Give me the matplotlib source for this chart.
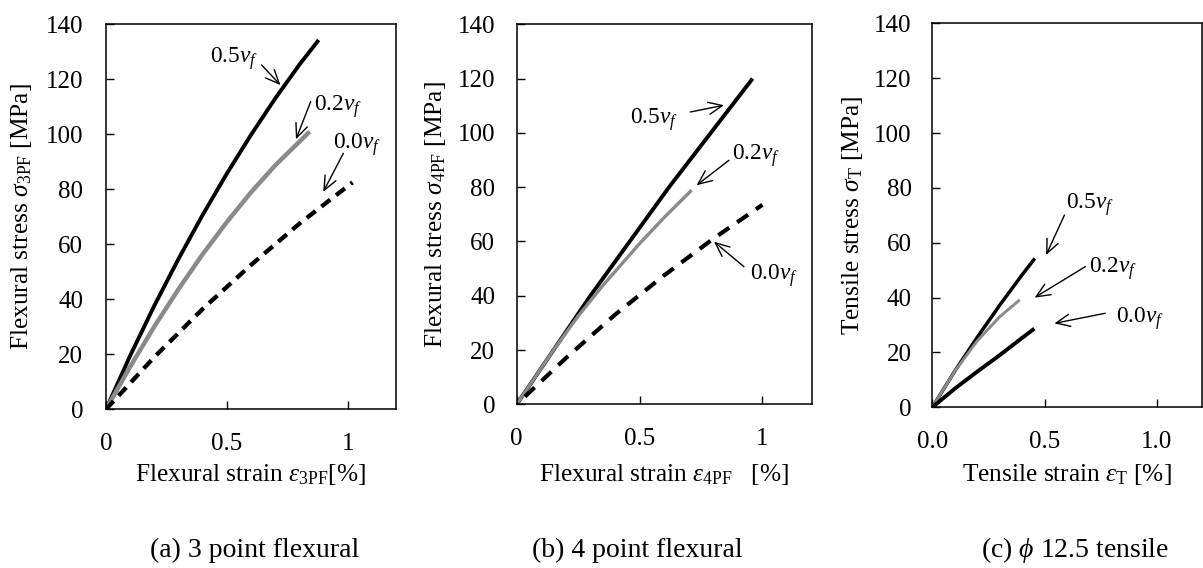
import matplotlib
matplotlib.use("Agg")
import matplotlib.pyplot as plt

plt.rcParams["font.family"] = ["Liberation Serif", "DejaVu Serif"]
plt.rcParams["mathtext.fontset"] = "custom"
plt.rcParams["mathtext.rm"] = "Liberation Serif"
plt.rcParams["mathtext.it"] = "Liberation Serif:italic"
plt.rcParams["mathtext.bf"] = "Liberation Serif:bold"

# ---- (a) 3 point flexural test -------------------------------------------
strain_3pf_05 = [0, 0.1, 0.2, 0.3, 0.4, 0.5, 0.6, 0.7, 0.8, 0.88]
stress_3pf_05 = [0, 19.5, 37.7, 54.7, 70.7, 85.7, 99.8, 113, 125.3, 134.3]
strain_3pf_02 = [0, 0.1, 0.2, 0.3, 0.4, 0.5, 0.6, 0.7, 0.843]
stress_3pf_02 = [0, 15.5, 30.1, 43.7, 56.4, 68.1, 78.9, 88.7, 101]
strain_3pf_00 = [0, 0.2, 0.4, 0.6, 0.8, 1.02]
stress_3pf_00 = [0, 19, 36.5, 52.5, 67.5, 82.5]

# ---- (b) 4 point flexural test -------------------------------------------
strain_4pf_05 = [0, 0.15, 0.3, 0.46, 0.62, 0.79, 0.96]
stress_4pf_05 = [0, 20, 40, 60, 80, 100, 120]
strain_4pf_02 = [0, 0.15, 0.25, 0.35, 0.5, 0.6, 0.712]
stress_4pf_02 = [0, 20, 32.5, 43.7, 59.2, 68.8, 78.9]
strain_4pf_00 = [0, 0.2, 0.4, 0.6, 0.8, 1.0]
stress_4pf_00 = [0, 17, 33, 47.5, 61, 73.5]

# ---- (c) phi 12.5 tensile test -------------------------------------------
strain_t_05 = [0, 0.1, 0.2, 0.3, 0.4, 0.457]
stress_t_05 = [0, 13.2, 25.5, 37.2, 48.3, 54.3]
strain_t_02 = [0, 0.1, 0.2, 0.3, 0.39]
stress_t_02 = [0, 13.2, 24.2, 33, 39.2]
strain_t_00 = [0, 0.1, 0.2, 0.3, 0.4, 0.455]
stress_t_00 = [0, 6.8, 13, 19, 25.3, 28.7]

series_labels = [r"0.5$v_f$", r"0.2$v_f$", r"0.0$v_f$"]
y_ticks = [0, 20, 40, 60, 80, 100, 120, 140]
x_ticks = [0, 0.5, 1.0]
x_ticklabels_flex = ["0", "0.5", "1"]
x_ticklabels_tens = ["0.0", "0.5", "1.0"]
captions = ["(a) 3 point flexural", "(b) 4 point flexural", r"(c) $\phi$ 12.5 tensile"]

GRAY = "#8a8a8a"
TICK_FS = 18
LABEL_FS = 18.3

fig = plt.figure(figsize=(12.03, 5.68), dpi=100)

panels = [
    dict(rect=[0.0881, 0.2794, 0.2411, 0.6778],
         curves=[(strain_3pf_05, stress_3pf_05, "k", 2.8, "-"),
                 (strain_3pf_02, stress_3pf_02, GRAY, 3.2, "-"),
                 (strain_3pf_00, stress_3pf_00, "k", 3.1, (0, (2.6, 1.7)))],
         xlabel=r"Flexural strain $\varepsilon_{\mathrm{3PF}}$[%]",
         ylabel=r"Flexural stress $\sigma_{\mathrm{3PF}}$ [MPa]",
         xticklabels=x_ticklabels_flex, ypad=16.5,
         ylab_x=-0.29, xlab_y=-0.17, cap_x=255,
         notes=[((0.43, 127.7), (0.644, 125.2), (0.722, 117.9)),
                ((0.86, 110.0), (0.847, 111.9), (0.786, 98.2)),
                ((0.94, 96.4), (0.982, 93.1), (0.899, 79.1))]),
    dict(rect=[0.4295, 0.2882, 0.2451, 0.669],
         curves=[(strain_4pf_05, stress_4pf_05, "k", 2.8, "-"),
                 (strain_4pf_02, stress_4pf_02, GRAY, 2.4, "-"),
                 (strain_4pf_00, stress_4pf_00, "k", 3.0, (2.8, (3.2, 2.3)))],
         xlabel=r"Flexural strain $\varepsilon_{\mathrm{4PF}}$   [%]",
         ylabel=r"Flexural stress $\sigma_{\mathrm{4PF}}$ [MPa]",
         xticklabels=x_ticklabels_flex, ypad=15.6,
         ylab_x=-0.277, xlab_y=-0.185, cap_x=637,
         notes=[((0.463, 105.0), (0.707, 107.7), (0.844, 110.2)),
                ((0.878, 91.8), (0.864, 89.9), (0.732, 80.7)),
                ((0.95, 47.6), (0.925, 50.7), (0.803, 59.9))]),
    dict(rect=[0.775, 0.2829, 0.2238, 0.676],
         curves=[(strain_t_05, stress_t_05, "k", 2.5, "-"),
                 (strain_t_02, stress_t_02, GRAY, 2.1, "-"),
                 (strain_t_00, stress_t_00, "k", 2.8, "-")],
         xlabel=r"Tensile strain $\varepsilon_{\mathrm{T}}$ [%]",
         ylabel=r"Tensile stress $\sigma_{\mathrm{T}}$ [MPa]",
         xticklabels=x_ticklabels_tens, ypad=14.8,
         ylab_x=-0.298, xlab_y=-0.176, cap_x=1075,
         notes=[((0.596, 73.8), (0.589, 70.1), (0.507, 55.5)),
                ((0.70, 50.7), (0.682, 51.3), (0.456, 40.0)),
                ((0.818, 32.4), (0.771, 34.3), (0.544, 30.6))]),
]

W_PX = 1203.0
for i, p in enumerate(panels):
    ax = fig.add_axes(p["rect"])
    for xs, ys, col, lw, ls in p["curves"]:
        ax.plot(xs, ys, color=col, lw=lw, linestyle=ls,
                solid_capstyle="butt", dash_capstyle="butt",
                solid_joinstyle="round")
    ax.set_xlim(0, 1.2)
    ax.set_ylim(0, 140)
    ax.set_xticks(x_ticks)
    ax.set_xticklabels(p["xticklabels"])
    ax.set_yticks(y_ticks)
    ax.tick_params(direction="in", length=5.5, width=1.0, labelsize=TICK_FS)
    ax.tick_params(axis="x", pad=17.0)
    ax.tick_params(axis="y", pad=p["ypad"])
    for s in ax.spines.values():
        s.set_linewidth(1.1)
    ax.set_xlabel(p["xlabel"], fontsize=LABEL_FS, va="center")
    ax.xaxis.set_label_coords(0.5, p["xlab_y"])
    ax.set_ylabel(p["ylabel"], fontsize=LABEL_FS, va="center")
    ax.yaxis.set_label_coords(p["ylab_x"], 0.5)
    for label, (txt_xy, tail, tip) in zip(series_labels, p["notes"]):
        ax.text(txt_xy[0], txt_xy[1], label, fontsize=16.8, ha="left", va="center")
        ax.annotate("", xy=tip, xytext=tail,
                    arrowprops=dict(arrowstyle="->,head_length=0.5,head_width=0.22",
                                    mutation_scale=20, lw=1.0, color="k",
                                    shrinkA=0, shrinkB=0))
    fig.text(p["cap_x"] / W_PX, 0.0317, captions[i], fontsize=20,
             ha="center", va="center")

fig.savefig("out.png", dpi=100)
